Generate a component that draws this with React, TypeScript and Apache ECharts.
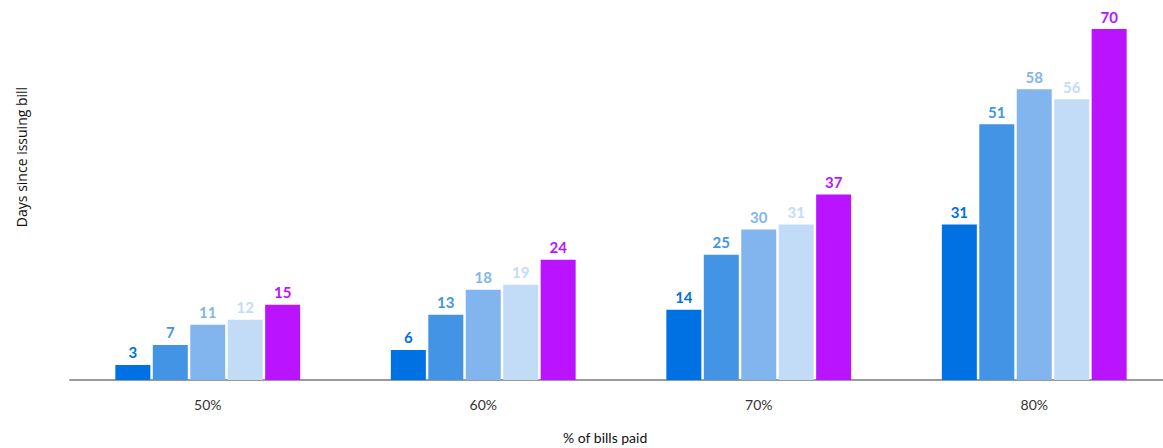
import React, { useEffect, useRef } from "react";
import * as echarts from "echarts";

const categories = ["50%", "60%", "70%", "80%"];
const seriesNames = ["S1", "S2", "S3", "S4", "S5"];
const seriesValues = [
  [3, 6, 14, 31],
  [7, 13, 25, 51],
  [11, 18, 30, 58],
  [12, 19, 31, 56],
  [15, 24, 37, 70],
];
const colors = ["#0071E3", "#4394E5", "#82B5EE", "#C2DCF7", "#B913FF"];
const xTitle = "% of bills paid";
const yTitle = "Days since issuing bill";

export default function App() {
  const ref = useRef<HTMLDivElement>(null);
  useEffect(() => {
    document.body.style.margin = "0";
    const chart = echarts.init(ref.current!, null, { renderer: "svg" });
    chart.setOption({
      animation: false,
      grid: {
        left: 70,
        width: 1102,
        top: 29,
        height: 351,
        containLabel: false,
        outerBoundsMode: "none",
      },
      xAxis: {
        type: "category",
        data: categories,
        axisLine: { lineStyle: { color: "#9a9a9a", width: 2 } },
        axisTick: { show: false },
        axisLabel: { color: "#333", fontSize: 14, margin: 17, fontFamily: "Lato" },
      },
      yAxis: {
        type: "value",
        min: 0,
        max: 70,
        show: false,
        splitLine: { show: false },
      },
      graphic: [
        {
          type: "text",
          left: 563,
          top: 430,
          style: { text: xTitle, fontSize: 14, fill: "#111", fontFamily: "Lato" },
        },
        {
          type: "text",
          x: 21,
          y: 157,
          rotation: Math.PI / 2,
          style: {
            text: yTitle,
            fontSize: 14,
            fill: "#111",
            fontFamily: "Open Sans",
            align: "center",
            verticalAlign: "middle",
          },
        },
      ],
      series: seriesNames.map((n, i) => ({
        name: n,
        type: "bar",
        data: seriesValues[i],
        barWidth: 35,
        barGap: "7%",
        barCategoryGap: "33%",
        itemStyle: { color: colors[i] },
        label: {
          show: true,
          position: "top",
          distance: 5,
          color: colors[i],
          fontWeight: "bold",
          fontSize: 15,
          fontFamily: "Lato",
        },
      })),
    });
    return () => chart.dispose();
  }, []);
  return <div ref={ref} style={{ width: 1163, height: 448 }} />;
}
